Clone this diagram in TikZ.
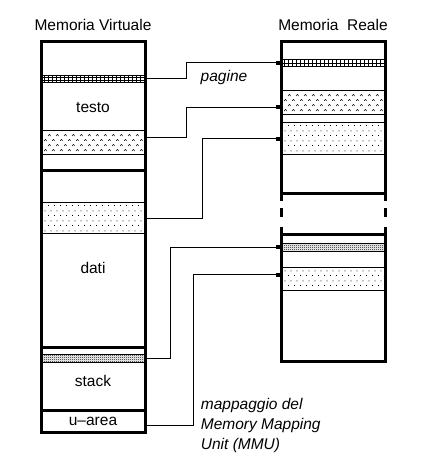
\documentclass[tikz,border=0pt]{standalone}
\usepackage{fontspec}
\setmainfont{Liberation Sans}
\usetikzlibrary{patterns,arrows.meta,calc}

\pgfdeclarepatternformonly{vgrid}{\pgfqpoint{-0.5pt}{-0.5pt}}{\pgfqpoint{4.5pt}{4pt}}{\pgfqpoint{4pt}{3.5pt}}{
  \pgfsetlinewidth{0.8pt}
  \pgfpathmoveto{\pgfqpoint{0pt}{0pt}}\pgfpathlineto{\pgfqpoint{4pt}{0pt}}
  \pgfpathmoveto{\pgfqpoint{0pt}{0pt}}\pgfpathlineto{\pgfqpoint{0pt}{3.5pt}}
  \pgfusepath{stroke}}
\pgfdeclarepatternformonly{vcaret}{\pgfqpoint{-1pt}{-1pt}}{\pgfqpoint{9pt}{11pt}}{\pgfqpoint{8pt}{10pt}}{
  \pgfsetlinewidth{0.5pt}
  \pgfpathmoveto{\pgfqpoint{0pt}{0pt}}\pgfpathlineto{\pgfqpoint{1.4pt}{1.6pt}}\pgfpathlineto{\pgfqpoint{2.8pt}{0pt}}
  \pgfpathmoveto{\pgfqpoint{4pt}{5pt}}\pgfpathlineto{\pgfqpoint{5.4pt}{6.6pt}}\pgfpathlineto{\pgfqpoint{6.8pt}{5pt}}
  \pgfusepath{stroke}}
\pgfdeclarepatternformonly{vdots}{\pgfqpoint{0pt}{0pt}}{\pgfqpoint{6pt}{10pt}}{\pgfqpoint{6pt}{10pt}}{
  \pgfpathrectangle{\pgfqpoint{0pt}{0pt}}{\pgfqpoint{1pt}{1pt}}
  \pgfpathrectangle{\pgfqpoint{3pt}{5pt}}{\pgfqpoint{1pt}{1pt}}
  \pgfusepath{fill}}
\pgfdeclarepatternformonly{vdense}{\pgfqpoint{0pt}{0pt}}{\pgfqpoint{2pt}{2pt}}{\pgfqpoint{2pt}{2pt}}{
  \pgfpathrectangle{\pgfqpoint{0pt}{0pt}}{\pgfqpoint{1pt}{1pt}}
  \pgfpathrectangle{\pgfqpoint{1pt}{1pt}}{\pgfqpoint{1pt}{1pt}}
  \pgfusepath{fill}}

\tikzset{
  lbl/.style={font=\fontsize{15.5}{20}\selectfont, inner sep=0pt},
  ilbl/.style={font=\fontsize{15.5}{20}\selectfont\itshape, inner sep=0pt, align=left},
  band/.style={draw, line width=1pt, rectangle, inner sep=0pt, minimum width=103.5pt, anchor=north west},
  thick/.style={line width=3pt, line join=miter, line cap=butt},
  conn/.style={line width=1pt, -{Square[length=4pt,width=4pt]}, shorten >=1.5pt}
}

\begin{document}
\begin{tikzpicture}[x=1pt,y=-1pt]
\useasboundingbox (0,0) rectangle (439,476);

% titles
\node[lbl] (tv) at (93,25) {Memoria Virtuale};
\node[lbl] (tr) at (333,25) {Memoria\ \ Reale};

% left bands
\node[band, pattern=vgrid, minimum height=7pt] (vg) at (41.5,75) {};
\node[band, pattern=vcaret, minimum height=24pt] (vc) at (41.5,130) {};
\node[band, pattern=vdots, minimum height=31.6pt] (vd) at (41.5,201.7) {};
\node[band, pattern=vdense, minimum height=8pt] (vs) at (41.5,354.3) {};
\node[rectangle, inner sep=0pt, minimum width=103.5pt, minimum height=22.5pt, anchor=north west] (ua) at (41.5,410) {};

% left box
\draw[thick] (41.5,42) rectangle (145,432.5);
\draw[thick] (41.5,170) -- (145,170);
\draw[thick] (41.5,347) -- (145,347);
\draw[thick] (41.5,410) -- (145,410);

\node[lbl] (testo) at (93,108) {testo};
\node[lbl] (dati) at (93,268) {dati};
\node[lbl] (stack) at (93,380.7) {stack};
\node[lbl] (uarea) at (93,421) {u\textendash area};

% right bands
\node[band, pattern=vgrid, minimum height=7pt] (rg) at (281.5,59) {};
\node[band, pattern=vcaret, minimum height=24pt] (rc) at (281.5,90) {};
\node[band, pattern=vdots, minimum height=32pt] (rd) at (281.5,122) {};
\node[band, pattern=vdense, minimum height=8pt] (rs) at (281.5,242.7) {};
\node[band, pattern=vdots, minimum height=23.3pt] (rd2) at (281.5,266.7) {};

% right box
\draw[thick] (281.5,201) -- (281.5,42) -- (385,42) -- (385,201);
\draw[thick] (281.5,193.3) -- (385,193.3);
\draw[thick] (281.5,208) -- (281.5,216.7);
\draw[thick] (385,208) -- (385,216.7);
\draw[thick] (281.5,226.7) -- (281.5,361.5) -- (385,361.5) -- (385,226.7);
\draw[thick] (281.5,234) -- (385,234);

% connectors
\draw[conn] (vg.east) -- ++(40,0) |- (rg.west);
\draw[conn] ($(vc.east)+(0,-4.7)$) -- ++(40,0) |- ($(rc.west)+(0,4.7)$);
\draw[conn] (vd.east) -- ++(56.7,0) |- (rd.west);
\draw[conn] (vs.east) -- ++(24,0) |- (rs.west);
\draw[conn] ($(ua.east)+(0,4.5)$) -- ++(48.3,0) |- ($(rd2.west)+(0,-4.3)$);

% labels
\node[ilbl] (pag) at (224,77) {pagine};
\node[ilbl, anchor=west] (mmu) at (200.7,425) {mappaggio del\\Memory Mapping\\Unit (MMU)};
\end{tikzpicture}
\end{document}
